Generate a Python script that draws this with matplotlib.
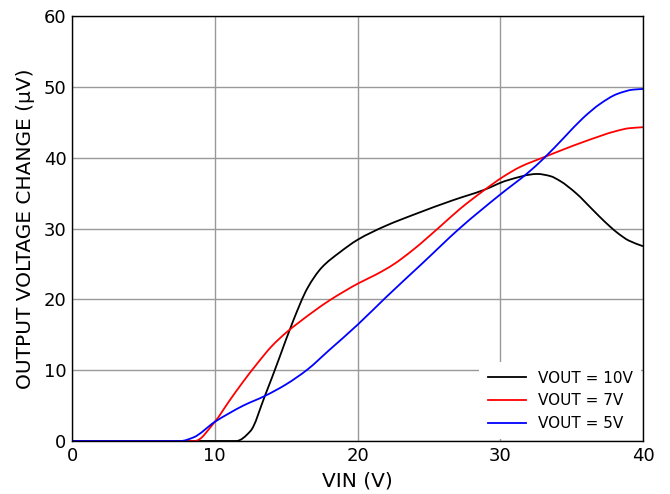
import matplotlib
matplotlib.use("Agg")
import numpy as np
import matplotlib.pyplot as plt
from matplotlib.path import Path
from matplotlib.patches import PathPatch
from matplotlib.lines import Line2D

# VOUT = 10V (black)
x10 = [0, 11.5, 12.5, 13.5, 14.5, 15.5, 16.5, 17.5, 18.8, 20.0, 22.0, 24.0, 26.7, 28.8,
       30.5, 32.6, 33.5, 34.2, 35.3, 36.5, 37.3, 38.2, 39.0, 40]
y10 = [0, 0, 1.4, 6.3, 11.6, 17.0, 21.6, 24.5, 26.7, 28.4, 30.4, 32.0, 34.0, 35.4,
       36.8, 37.7, 37.4, 36.7, 35.0, 32.6, 31.0, 29.4, 28.3, 27.5]

# VOUT = 7V (red)
x7 = [0, 8.6, 10.0, 11.0, 12.0, 13.0, 14.0, 15.0, 16.0, 17.0, 18.0, 20.1, 21.3, 22.5, 23.9,
      25.8, 27.2, 28.8, 30.2, 31.4, 33.1, 35.8, 38.2, 39.0, 40]
y7 = [0, 0, 2.7, 5.6, 8.4, 11.0, 13.4, 15.3, 16.9, 18.4, 19.8, 22.3, 23.5, 24.9, 27.0,
      30.3, 32.8, 35.3, 37.3, 38.7, 40.1, 42.2, 43.8, 44.15, 44.3]

# VOUT = 5V (blue)
x5 = [0, 7.6, 8.5, 10.0, 11.0, 12.0, 13.5, 15.0, 16.5, 18.0, 20.0, 22.0, 24.5, 27.2,
      30.0, 31.9, 33.1, 34.5, 35.8, 37.0, 38.2, 39.3, 40]
y5 = [0, 0, 0.5, 2.7, 3.9, 5.0, 6.35, 8.0, 10.1, 12.8, 16.4, 20.3, 25.0, 30.1,
      34.8, 37.8, 40.0, 42.9, 45.6, 47.6, 49.0, 49.6, 49.7]

labels = ["VOUT = 10V", "VOUT = 7V", "VOUT = 5V"]
colors = ["black", "#ff0000", "#0000ff"]
xticks = [0, 10, 20, 30, 40]
yticks = [0, 10, 20, 30, 40, 50, 60]


def smooth_path(x, y):
    """Bezier path through the data points (PCHIP-style tangents)."""
    x = np.asarray(x, float)
    y = np.asarray(y, float)
    h = np.diff(x)
    d = np.diff(y) / h
    m = np.zeros_like(y)
    m[0], m[-1] = d[0], d[-1]
    for k in range(1, len(x) - 1):
        if d[k - 1] * d[k] <= 0:
            m[k] = 0.0
        else:
            w1 = 2 * h[k] + h[k - 1]
            w2 = h[k] + 2 * h[k - 1]
            m[k] = (w1 + w2) / (w1 / d[k - 1] + w2 / d[k])
    verts = [(x[0], y[0])]
    codes = [Path.MOVETO]
    for k in range(len(x) - 1):
        verts += [(x[k] + h[k] / 3, y[k] + m[k] * h[k] / 3),
                  (x[k + 1] - h[k] / 3, y[k + 1] - m[k + 1] * h[k] / 3),
                  (x[k + 1], y[k + 1])]
        codes += [Path.CURVE4] * 3
    return Path(verts, codes)


fig = plt.figure(figsize=(6.70, 4.94), dpi=100)
ax = fig.add_axes([72/670, 53/494, (643-72)/670, (441-16)/494])

lw = 1.3
for xs, ys, c in zip([x10, x7, x5], [y10, y7, y5], colors):
    ax.add_patch(PathPatch(smooth_path(xs, ys), facecolor="none", edgecolor=c,
                           lw=lw, zorder=3, capstyle="butt", joinstyle="round"))

ax.set_xlim(0, 40)
ax.set_ylim(0, 60)
ax.set_xticks(xticks)
ax.set_yticks(yticks)
ax.tick_params(length=0, labelsize=13, pad=4)
ax.grid(True, color="#999999", lw=1.0)
ax.set_axisbelow(True)
for s in ax.spines.values():
    s.set_color("black")
    s.set_linewidth(1.0)
    s.set_zorder(4)

ax.set_xlabel("VIN (V)", fontsize=14.5, labelpad=5)
ax.set_ylabel("OUTPUT VOLTAGE CHANGE (μV)", fontsize=14.5, labelpad=6)

handles = [Line2D([], [], color=c, lw=lw) for c in colors]
leg = ax.legend(handles, labels, loc="lower right", fontsize=11, frameon=True, fancybox=False,
                framealpha=1, facecolor="white", edgecolor="none",
                handlelength=2.5, borderpad=0.55, labelspacing=0.5, borderaxespad=0.1)
leg.set_zorder(5)

fig.savefig("out.png", dpi=100)
